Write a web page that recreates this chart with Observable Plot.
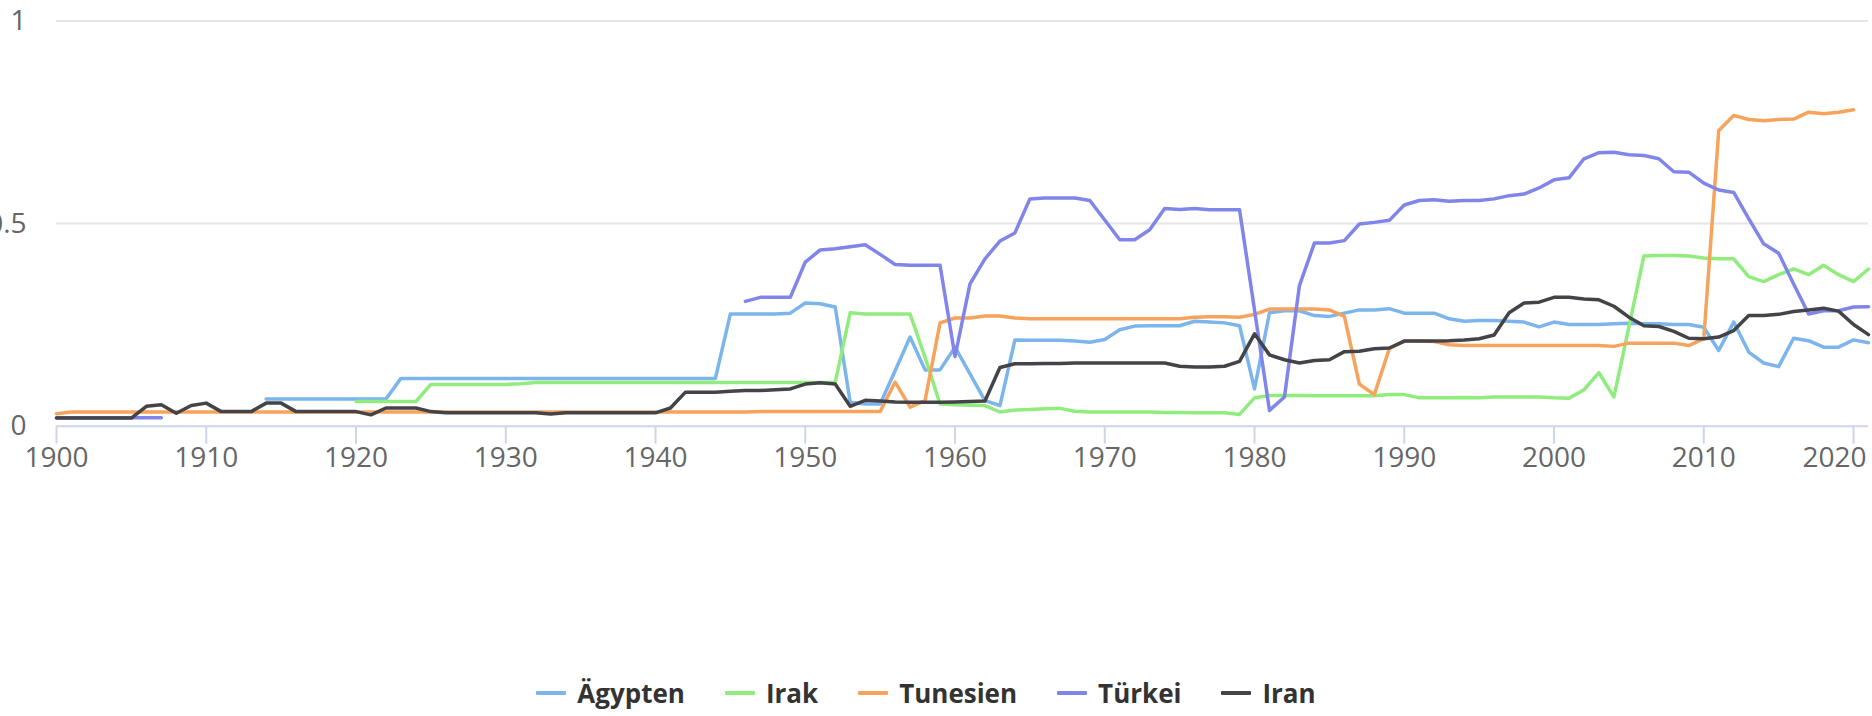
<!DOCTYPE html>
<html>
<head>
<meta charset="utf-8">
<script src="https://cdn.jsdelivr.net/npm/d3@7"></script>
<script src="https://cdn.jsdelivr.net/npm/@observablehq/plot@0.6"></script>
<style>
  html, body { margin: 0; padding: 0; background: #fff; }
  #wrap { position: relative; width: 1872px; height: 716px; overflow: hidden; }
  #chart svg { overflow: hidden; display: block; }
  #legend { position: absolute; left: 0; top: 676px; width: 1852px; padding-right: 20px; height: 34px;
    display: flex; justify-content: center; align-items: center; gap: 40px;
    font-family: "Open Sans", sans-serif; font-weight: 700; font-size: 26px; color: #333; }
  .item { display: flex; align-items: center; gap: 11px; }
  .sw { width: 30px; height: 4px; border-radius: 1px; }
</style>
</head>
<body>
<div id="wrap">
  <div id="chart"></div>
  <div id="legend"></div>
</div>
<script>
// Series names and colours
const seriesNames = ["Ägypten", "Irak", "Tunesien", "Türkei", "Iran"];
const seriesColors = ["#7cb5ec", "#90ed7d", "#f7a35c", "#8085e9", "#434348"];

// X-axis tick labels and y-axis ticks
const xTicks = [1900, 1910, 1920, 1930, 1940, 1950, 1960, 1970, 1980, 1990, 2000, 2010, 2020];
const yTicks = [0, 0.5, 1];

// Each series: first year, then one value per year (null = no data)
const aegyptenStart = 1914;
const aegypten = [
  0.067,0.067,0.067,0.067,0.067,0.067,                          // 1914-1919
  0.067,0.067,0.067,0.118,0.118,0.118,0.118,0.118,0.118,0.118,  // 1920s
  0.118,0.118,0.118,0.118,0.118,0.118,0.118,0.118,0.118,0.118,  // 1930s
  0.118,0.118,0.118,0.118,0.118,0.277,0.277,0.277,0.277,0.279,  // 1940s
  0.304,0.302,0.294,0.059,0.055,0.055,0.137,0.22,0.139,0.139,   // 1950s
  0.195,0.129,0.063,0.051,0.213,0.212,0.212,0.212,0.21,0.207,   // 1960s
  0.214,0.238,0.247,0.248,0.248,0.248,0.259,0.257,0.255,0.248,  // 1970s
  0.092,0.28,0.285,0.285,0.273,0.271,0.279,0.287,0.287,0.29,    // 1980s
  0.279,0.279,0.279,0.265,0.259,0.261,0.261,0.259,0.257,0.245,  // 1990s
  0.257,0.251,0.251,0.251,0.253,0.254,0.253,0.253,0.251,0.251,  // 2000s
  0.244,0.187,0.257,0.183,0.156,0.147,0.217,0.211,0.195,0.195,  // 2010s
  0.213,0.206                                                   // 2020-2021
];

const irakStart = 1920;
const irak = [
  0.061,0.061,0.061,0.061,0.061,0.103,0.103,0.103,0.103,0.103,  // 1920s
  0.103,0.105,0.108,0.108,0.108,0.108,0.108,0.108,0.108,0.108,  // 1930s
  0.108,0.108,0.108,0.108,0.108,0.108,0.108,0.108,0.108,0.108,  // 1940s
  0.108,0.108,0.108,0.28,0.277,0.277,0.277,0.277,0.17,0.055,    // 1950s
  0.053,0.052,0.051,0.035,0.04,0.041,0.043,0.044,0.037,0.035,   // 1960s
  0.035,0.035,0.035,0.035,0.034,0.034,0.033,0.033,0.033,0.029,  // 1970s
  0.07,0.076,0.076,0.076,0.075,0.075,0.075,0.075,0.075,0.078,   // 1980s
  0.078,0.07,0.07,0.07,0.071,0.07,0.072,0.072,0.072,0.072,      // 1990s
  0.07,0.069,0.09,0.132,0.072,0.245,0.42,0.421,0.421,0.42,      // 2000s
  0.415,0.413,0.413,0.369,0.357,0.374,0.388,0.374,0.397,0.374,  // 2010s
  0.357,0.388                                                   // 2020-2021
];

const tunesienStart = 1900;
const tunesien = [
  0.031,0.035,0.035,0.035,0.035,0.035,0.035,0.035,0.035,0.035,  // 1900s
  0.035,0.035,0.035,0.035,0.035,0.035,0.035,0.035,0.035,0.035,  // 1910s
  0.035,0.035,0.035,0.035,0.035,0.035,0.035,0.035,0.035,0.035,  // 1920s
  0.035,0.035,0.035,0.035,0.035,0.035,0.035,0.035,0.035,0.035,  // 1930s
  0.035,0.035,0.035,0.035,0.035,0.035,0.035,0.036,0.036,0.036,  // 1940s
  0.036,0.036,0.036,0.036,0.036,0.036,0.109,0.047,0.063,0.255,  // 1950s
  0.267,0.267,0.272,0.272,0.267,0.265,0.265,0.265,0.265,0.265,  // 1960s
  0.265,0.265,0.265,0.265,0.265,0.265,0.269,0.27,0.27,0.269,    // 1970s
  0.276,0.289,0.289,0.289,0.289,0.287,0.271,0.104,0.078,0.191,  // 1980s
  0.21,0.21,0.209,0.201,0.199,0.199,0.199,0.199,0.199,0.199,    // 1990s
  0.199,0.199,0.199,0.199,0.197,0.205,0.205,0.205,0.205,0.199,  // 2000s
  0.216,0.73,0.767,0.757,0.754,0.757,0.758,0.775,0.771,0.775,   // 2010s
  0.781                                                         // 2020
];

const tuerkeiStart = 1900;
const tuerkei = [
  0.021,0.021,0.021,0.021,0.021,0.021,0.021,0.021,null,null,    // 1900s
  null,null,null,null,null,null,null,null,null,null,            // 1910s
  null,null,null,null,null,null,null,null,null,null,            // 1920s
  null,null,null,null,null,null,null,null,null,null,            // 1930s
  null,null,null,null,null,null,0.308,0.318,0.318,0.318,        // 1940s
  0.405,0.435,0.438,0.443,0.448,0.424,0.399,0.397,0.397,0.397,  // 1950s
  0.172,0.351,0.413,0.457,0.477,0.561,0.563,0.563,0.563,0.557,  // 1960s
  0.509,0.46,0.46,0.485,0.537,0.535,0.537,0.534,0.534,0.534,    // 1970s
  0.287,0.039,0.072,0.347,0.452,0.452,0.458,0.499,0.503,0.508,  // 1980s
  0.546,0.557,0.559,0.555,0.557,0.557,0.561,0.569,0.573,0.588,  // 1990s
  0.608,0.613,0.66,0.675,0.676,0.67,0.668,0.66,0.628,0.627,     // 2000s
  0.6,0.583,0.577,0.512,0.45,0.427,0.351,0.277,0.285,0.285,     // 2010s
  0.294,0.295                                                   // 2020-2021
];

const iranStart = 1900;
const iran = [
  0.02,0.02,0.02,0.02,0.02,0.02,0.049,0.053,0.032,0.051,        // 1900s
  0.057,0.036,0.036,0.036,0.057,0.057,0.036,0.036,0.036,0.036,  // 1910s
  0.036,0.028,0.045,0.045,0.045,0.036,0.033,0.033,0.033,0.033,  // 1920s
  0.033,0.033,0.033,0.03,0.033,0.033,0.033,0.033,0.033,0.033,   // 1930s
  0.033,0.045,0.084,0.084,0.084,0.086,0.088,0.088,0.09,0.092,   // 1940s
  0.104,0.107,0.104,0.049,0.064,0.062,0.06,0.059,0.059,0.059,   // 1950s
  0.06,0.061,0.062,0.145,0.154,0.154,0.155,0.155,0.156,0.156,   // 1960s
  0.156,0.156,0.156,0.156,0.156,0.148,0.146,0.146,0.148,0.16,   // 1970s
  0.228,0.176,0.164,0.156,0.162,0.164,0.184,0.185,0.191,0.193,  // 1980s
  0.21,0.21,0.21,0.211,0.213,0.216,0.225,0.28,0.304,0.306,      // 1990s
  0.318,0.318,0.314,0.312,0.296,0.269,0.248,0.246,0.234,0.217,  // 2000s
  0.216,0.22,0.236,0.273,0.273,0.276,0.283,0.287,0.291,0.284,   // 2010s
  0.251,0.226                                                   // 2020-2021
];

const seriesData = [
  [aegyptenStart, aegypten],
  [irakStart, irak],
  [tunesienStart, tunesien],
  [tuerkeiStart, tuerkei],
  [iranStart, iran]
];

const rows = seriesData.map(([start, vals], i) =>
  vals.map((v, j) => ({ series: seriesNames[i], year: start + j, value: v }))
);

const lastTick = xTicks[xTicks.length - 1];
const W = 1872, H = 660;
const plot = Plot.plot({
  width: W,
  height: H,
  marginLeft: 56,
  marginRight: 4,
  marginTop: 20.5,
  marginBottom: H - 425.7,
  style: { fontFamily: "'Open Sans', sans-serif", background: "#fff", overflow: "hidden" },
  x: { domain: [1900, 2021] },
  y: { domain: [0, 1] },
  color: { domain: seriesNames, range: seriesColors },
  marks: [
    Plot.ruleY([0.5, 1], { stroke: "#e6e6e6", strokeWidth: 2 }),
    Plot.axisY({ ticks: yTicks, tickSize: 0, tickPadding: 30, tickFormat: d => String(d),
      fill: "#666", fontSize: 28, label: null }),
    ...rows.map((r, i) => Plot.line(r, {
      x: "year", y: "value", stroke: seriesColors[i], strokeWidth: 3.5,
      strokeLinejoin: "round", strokeLinecap: "round"
    })),
    Plot.ruleY([0], { stroke: "#ccd6eb", strokeWidth: 2 }),
    Plot.axisX({ ticks: xTicks, tickSize: 18, tickPadding: 3,
      tickFormat: d => (d === lastTick ? "" : String(d)),
      stroke: "#ccd6eb", strokeWidth: 2, fill: "#666", fontSize: 28, label: null }),
    // last label is pulled inside the chart edge, as in the original
    Plot.axisX({ ticks: [lastTick], tickSize: 0, tickPadding: 21, textAnchor: "end", dx: 13,
      tickFormat: d => String(d), fill: "#666", fontSize: 28, label: null })
  ]
});
document.getElementById("chart").appendChild(plot);

const legend = document.getElementById("legend");
seriesNames.forEach((name, i) => {
  const item = document.createElement("div");
  item.className = "item";
  const sw = document.createElement("div");
  sw.className = "sw";
  sw.style.background = seriesColors[i];
  const t = document.createElement("span");
  t.textContent = name;
  item.appendChild(sw);
  item.appendChild(t);
  legend.appendChild(item);
});
</script>
</body>
</html>
